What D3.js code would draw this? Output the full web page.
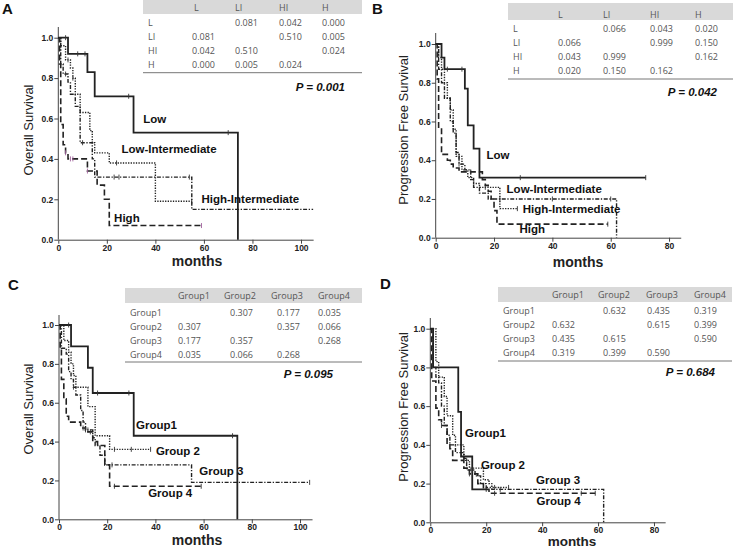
<!DOCTYPE html>
<html><head><meta charset="utf-8">
<script src="https://cdn.jsdelivr.net/npm/d3@7"></script>
<style>body{margin:0;background:#fff}svg{display:block}</style>
</head><body>
<script>
// ---------- DATA ----------
// Kaplan-Meier steps: [month, survival after step]; end month; censor months
const A_low  = [[0,1],[4,0.92],[12,0.83],[15,0.71],[31,0.53],[74,0]];
const A_lowEnd = 74, A_lowCens = [3,8,11,29,70];
const A_li   = [[0,1],[1,0.96],[3,0.89],[5,0.85],[6,0.80],[7,0.72],[9,0.63],[13,0.54],[14,0.48],[15,0.43],[21,0.38],[40,0.19]];
const A_liEnd = 55, A_liCens = [4,6,24,55];
const A_hi   = [[0,1],[1,0.87],[2,0.82],[4,0.78],[5,0.72],[7,0.66],[9,0.48],[14,0.40],[15,0.31],[55,0.15]];
const A_hiEnd = 105, A_hiCens = [3,10,23,25,54];
const A_high = [[0,1],[0.5,0.87],[1,0.57],[2,0.47],[3,0.43],[4,0.40],[12,0.34],[16,0.27],[19,0.20],[21,0.07]];
const A_highEnd = 59, A_highCens = [3,5,6,12,59];

const B_low  = [[0,1],[2,0.93],[3,0.87],[10,0.77],[11,0.58],[13,0.46],[15,0.31]];
const B_lowEnd = 72, B_lowCens = [4,9,29,72];
const B_li   = [[0,1],[1,0.93],[2,0.87],[3,0.80],[4,0.72],[5,0.66],[6,0.56],[7,0.42],[9,0.35],[11,0.31],[13,0.28],[15,0.26],[22,0.15]];
const B_liEnd = 28, B_liCens = [8,17,28];
const B_hi   = [[0,1],[1,0.87],[2,0.80],[3,0.72],[5,0.60],[6,0.54],[7,0.44],[8,0.38],[10,0.35],[12,0.30],[13,0.26],[15,0.23],[18,0.20],[62,0]];
const B_hiEnd = 62, B_hiCens = [8,22,40,60];
const B_high = [[0,1],[0.5,0.82],[1,0.57],[2,0.43],[4,0.40],[5,0.38],[6,0.36],[8,0.34],[16,0.30],[17,0.27],[18,0.24],[19,0.20],[20,0.14],[21,0.07]];
const B_highEnd = 59, B_highCens = [12,59];

const C_g1 = [[0,1],[5,0.89],[12,0.78],[14,0.65],[31,0.43],[74,0]];
const C_g1End = 74, C_g1Cens = [4,16,29,72];
const C_g2 = [[0,1],[2,0.92],[4,0.86],[5,0.80],[6,0.74],[7,0.68],[12,0.58],[15,0.43],[21,0.36]];
const C_g2End = 38, C_g2Cens = [23,30,38];
const C_g3 = [[0,1],[1,0.88],[3,0.85],[4,0.76],[5,0.72],[6,0.68],[7,0.64],[9,0.56],[10,0.50],[11,0.46],[14,0.42],[15,0.38],[17,0.33],[19,0.28],[55,0.19]];
const C_g3End = 104, C_g3Cens = [6,12,22,104];
const C_g4 = [[0,1],[0.5,0.88],[1,0.72],[2,0.62],[3,0.53],[4,0.50],[9,0.47],[11,0.46],[12,0.45],[14,0.40],[16,0.38],[19,0.28],[21,0.17]];
const C_g4End = 59, C_g4Cens = [10,11,13,23,59];

const D_g1 = [[0,1],[1,0.80],[10,0.57],[11,0.34],[15,0.17]];
const D_g1End = 20, D_g1Cens = [12,20];
const D_g2 = [[0,1],[2,0.83],[3,0.75],[5,0.65],[6,0.55],[8,0.45],[9,0.40],[12,0.32],[14,0.28],[19,0.22],[21,0.20],[22,0.18]];
const D_g2End = 28, D_g2Cens = [13,23,28];
const D_g3 = [[0,1],[1,0.80],[2,0.75],[3,0.72],[4,0.60],[5,0.50],[6,0.45],[7,0.40],[9,0.36],[12,0.33],[13,0.27],[16,0.24],[18,0.20],[20,0.18],[22,0.17],[62,0]];
const D_g3End = 62, D_g3Cens = [15,25];
const D_g4 = [[0,1],[0.5,0.73],[2,0.59],[3,0.53],[4,0.50],[6,0.40],[7,0.38],[8,0.32],[12,0.28],[14,0.25],[17,0.20],[19,0.17],[21,0.15]];
const D_g4End = 59, D_g4Cens = [4,14,23,54,59];

// Tables
const riskHeads = ["L","LI","HI","H"];
const A_table = [["","0.081","0.042","0.000"],["0.081","","0.510","0.005"],["0.042","0.510","","0.024"],["0.000","0.005","0.024",""]];
const B_table = [["","0.066","0.043","0.020"],["0.066","","0.999","0.150"],["0.043","0.999","","0.162"],["0.020","0.150","0.162",""]];
const groupHeads = ["Group1","Group2","Group3","Group4"];
const C_table = [["","0.307","0.177","0.035"],["0.307","","0.357","0.066"],["0.177","0.357","","0.268"],["0.035","0.066","0.268",""]];
const D_table = [["","0.632","0.435","0.319"],["0.632","","0.615","0.399"],["0.435","0.615","","0.590"],["0.319","0.399","0.590",""]];
const pValues = ["P = 0.001","P = 0.042","P = 0.095","P = 0.684"];

// Curve labels [text, month, survival]
const A_labels = [["Low",35,0.58],["Low-Intermediate",26,0.43],["High-Intermediate",59,0.18],["High",23,0.09]];
const B_labels = [["Low",17.4,0.405],["Low-Intermediate",24.3,0.232],["High-Intermediate",29.8,0.126],["High",28.7,0.023]];
const C_labels = [["Group1",32,0.463],["Group 2",40.2,0.331],["Group 3",58.2,0.228],["Group 4",37,0.113]];
const D_labels = [["Group1",12.4,0.442],["Group 2",18.1,0.274],["Group 3",37.8,0.198],["Group 4",38,0.089]];

const xTicksOS = [0,20,40,60,80,100];
const xTicksPFS = [0,20,40,60,80];
const yTicks = [0,0.2,0.4,0.6,0.8,1.0];

// ---------- DRAW ----------
const svg = d3.select("body").append("svg").attr("width",737).attr("height",549);
const FONT = "'Liberation Sans', Arial, sans-serif";
const TFONT = "'Open Sans', 'Noto Sans', sans-serif";
const styles = {
  solid:{dash:null,w:1.8},
  dotted:{dash:"1.3,1.3",w:1.4},
  dashdot:{dash:"4,1.6,1.3,1.6",w:1.4},
  dashed:{dash:"6,3",w:1.6}
};

function survAt(steps,t){let s=1;for(const p of steps){if(p[0]<=t)s=p[1];}return s;}

function panel(cfg){
  const g = svg.append("g");
  const x = d3.scaleLinear().domain([0,cfg.xmax]).range([cfg.x0,cfg.x0+cfg.pxPerMo*cfg.xmax]);
  const y = d3.scaleLinear().domain([0,1]).range([cfg.y0,cfg.y1]);
  const xa = g.append("g").attr("transform",`translate(0,${cfg.y0})`)
    .call(d3.axisBottom(x).tickValues(cfg.xticks).tickSize(4).tickSizeOuter(0).tickPadding(1).tickFormat(d3.format("d")));
  const ya = g.append("g").attr("transform",`translate(${cfg.x0},0)`)
    .call(d3.axisLeft(y).tickValues(yTicks).tickSize(4).tickSizeOuter(0).tickPadding(1).tickFormat(d3.format(".1f")));
  ya.select(".domain").attr("d",`M0,${cfg.y0}V${cfg.ytop}`);
  [xa,ya].forEach(a=>{
    a.selectAll("path,line").attr("stroke","#444").attr("stroke-width",1);
    a.selectAll("text").attr("font-family",FONT).attr("font-weight","bold").attr("font-size",8.5).attr("fill","#222");
  });
  const line = d3.line().x(d=>x(d[0])).y(d=>y(d[1])).curve(d3.curveStepAfter);
  cfg.curves.forEach(c=>{
    const st = styles[c.style];
    const pts = c.steps.concat([[c.end,c.steps[c.steps.length-1][1]]]);
    g.append("path").attr("d",line(pts)).attr("fill","none")
      .attr("stroke","#222").attr("stroke-width",st.w).attr("stroke-dasharray",st.dash);
    c.cens.forEach(t=>{
      const s=survAt(c.steps,t);
      g.append("line").attr("x1",x(t)).attr("x2",x(t)).attr("y1",y(s)-2.5).attr("y2",y(s)+2.5)
        .attr("stroke",c.censColor||"#333").attr("stroke-width",0.9);
    });
  });
  cfg.labels.forEach(l=>{
    g.append("text").attr("x",x(l[1])).attr("y",y(l[2])).text(l[0])
      .attr("font-family",FONT).attr("font-weight","bold").attr("font-size",11.5).attr("fill","#111");
  });
  g.append("text").attr("transform",`translate(${cfg.ylabX},${cfg.ylabY}) rotate(-90)`)
    .attr("text-anchor","middle").attr("font-family",FONT).attr("font-size",13).attr("fill","#222").text(cfg.ylab);
  g.append("text").attr("x",cfg.xlabX).attr("y",cfg.xlabY).attr("text-anchor","middle")
    .attr("font-family",FONT).attr("font-weight","bold").attr("font-size",cfg.xlabFs||14).attr("fill","#222").text("months");
  g.append("text").attr("x",cfg.letX).attr("y",cfg.letY).text(cfg.letter)
    .attr("font-family",FONT).attr("font-weight","bold").attr("font-size",15).attr("fill","#111");
  const T = cfg.table;
  g.append("rect").attr("x",T.x).attr("y",T.top).attr("width",T.w).attr("height",T.hh).attr("fill","#d9d9d9");
  g.append("line").attr("x1",T.x).attr("x2",T.x+T.w).attr("y1",T.bottom).attr("y2",T.bottom).attr("stroke","#777").attr("stroke-width",1);
  const tt = (txt,xx,yy)=>g.append("text").attr("x",xx).attr("y",yy).text(txt)
      .attr("font-family",TFONT).attr("font-size",T.fs).attr("fill","#555");
  T.heads.forEach((h,i)=>tt(h,T.headX[i],T.headBase));
  T.heads.forEach((h,r)=>{
    const yy = T.rowBase + r*T.rowH;
    tt(h,T.labX,yy);
    T.rows[r].forEach((v,c)=>{ if(v) tt(v,T.valX[c],yy); });
  });
  g.append("text").attr("x",cfg.pX).attr("y",cfg.pY).attr("text-anchor","end").text(cfg.p)
    .attr("font-family",FONT).attr("font-weight","bold").attr("font-style","italic").attr("font-size",11.5).attr("fill","#111");
}

panel({letter:"A",letX:2,letY:14,x0:58.3,pxPerMo:2.427,xmax:105,xticks:xTicksOS,y0:239.7,y1:37.7,ytop:27,
  ylab:"Overall Survival",ylabX:33,ylabY:130,xlabX:197,xlabY:266,
  curves:[
    {steps:A_low,end:A_lowEnd,cens:A_lowCens,style:"solid"},
    {steps:A_li,end:A_liEnd,cens:A_liCens,style:"dotted"},
    {steps:A_hi,end:A_hiEnd,cens:A_hiCens,style:"dashdot"},
    {steps:A_high,end:A_highEnd,cens:A_highCens,style:"dashed",censColor:"#a0609c"}],
  labels:A_labels,p:pValues[0],pX:345,pY:91,
  table:{x:143,w:219,top:0,hh:14,bottom:72.7,fs:9,heads:riskHeads,rows:A_table,headX:[194,235,279,322],headBase:11,
    labX:148,valX:[192,235,279,322],rowBase:25.5,rowH:14.3}});

panel({letter:"B",letX:372,letY:14,x0:435.7,pxPerMo:2.917,xmax:84,xticks:xTicksPFS,y0:237.7,y1:44,ytop:33,
  ylab:"Progression Free Survival",ylabX:408,ylabY:130,xlabX:578,xlabY:267,
  curves:[
    {steps:B_low,end:B_lowEnd,cens:B_lowCens,style:"solid"},
    {steps:B_li,end:B_liEnd,cens:B_liCens,style:"dotted"},
    {steps:B_hi,end:B_hiEnd,cens:B_hiCens,style:"dashdot"},
    {steps:B_high,end:B_highEnd,cens:B_highCens,style:"dashed"}],
  labels:B_labels,p:pValues[1],pX:717,pY:96,
  table:{x:508,w:225,top:3,hh:17,bottom:79,fs:9,heads:riskHeads,rows:B_table,headX:[558,603,650,695],headBase:17.5,
    labX:513,valX:[558,603,650,695],rowBase:31.5,rowH:14.3}});

panel({letter:"C",letX:8,letY:290,x0:59,pxPerMo:2.41,xmax:105,xticks:xTicksOS,y0:519.3,y1:325,ytop:315,
  ylab:"Overall Survival",ylabX:33,ylabY:409,xlabX:197,xlabY:545,
  curves:[
    {steps:C_g1,end:C_g1End,cens:C_g1Cens,style:"solid"},
    {steps:C_g2,end:C_g2End,cens:C_g2Cens,style:"dotted"},
    {steps:C_g3,end:C_g3End,cens:C_g3Cens,style:"dashdot"},
    {steps:C_g4,end:C_g4End,cens:C_g4Cens,style:"dashed"}],
  labels:C_labels,p:pValues[2],pX:333,pY:378,
  table:{x:125,w:237,top:288,hh:15,bottom:362,fs:9,heads:groupHeads,rows:C_table,headX:[178,224,271,318],headBase:298.5,
    labX:130,valX:[178,230,277,318],rowBase:315.5,rowH:14}});

panel({letter:"D",letX:380,letY:289,x0:430.3,pxPerMo:2.796,xmax:84,xticks:xTicksPFS,y0:522.3,y1:328.7,ytop:318,
  ylab:"Progression Free Survival",ylabX:408,ylabY:407,xlabX:572,xlabY:546,xlabFs:13.5,
  curves:[
    {steps:D_g1,end:D_g1End,cens:D_g1Cens,style:"solid"},
    {steps:D_g2,end:D_g2End,cens:D_g2Cens,style:"dotted"},
    {steps:D_g3,end:D_g3End,cens:D_g3Cens,style:"dashdot"},
    {steps:D_g4,end:D_g4End,cens:D_g4Cens,style:"dashed"}],
  labels:D_labels,p:pValues[3],pX:715,pY:376,
  table:{x:498,w:234,top:287,hh:15,bottom:361,fs:9,heads:groupHeads,rows:D_table,headX:[552,598,646,694],headBase:297.5,
    labX:503,valX:[552,603,647,694],rowBase:313.5,rowH:14}});
</script>
</body></html>
